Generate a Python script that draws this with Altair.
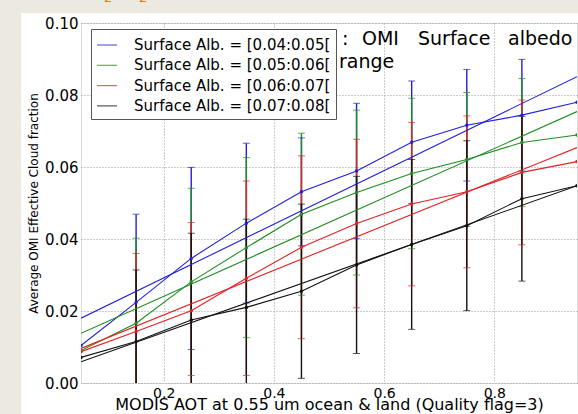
import altair as alt
import pandas as pd

# ---- data ----
aot = [0.05, 0.15, 0.25, 0.35, 0.45, 0.55, 0.65, 0.75, 0.85, 0.95]
labels = ["Surface Alb. = [0.04:0.05[", "Surface Alb. = [0.05:0.06[",
          "Surface Alb. = [0.06:0.07[", "Surface Alb. = [0.07:0.08["]
colors = ["#2020d8", "#1f8c1f", "#e02222", "#111111"]

mean_blue = [0.0104, 0.0224, 0.0346, 0.0444, 0.0531, 0.0589, 0.0669, 0.0716, 0.0744, 0.0780]
mean_green = [0.0090, 0.0166, 0.0281, 0.0376, 0.0469, 0.0529, 0.0582, 0.0621, 0.0668, 0.0689]
mean_red = [0.0087, 0.0143, 0.0201, 0.0291, 0.0377, 0.0443, 0.0497, 0.0531, 0.0585, 0.0615]
mean_black = [0.0071, 0.0115, 0.0175, 0.0210, 0.0255, 0.0328, 0.0385, 0.0437, 0.0512, 0.0548]

# standard deviations at AOT 0.15 ... 0.85
std_blue = [0.0245, 0.0253, 0.0222, 0.0150, 0.0188, 0.0170, 0.0155, 0.0155]
std_green = [0.0236, 0.0260, 0.0250, 0.0225, 0.0229, 0.0209, 0.0186, 0.0178]
std_red = [0.0217, 0.0245, 0.0270, 0.0254, 0.0234, 0.0227, 0.0211, 0.0201]
std_black = [0.0199, 0.0241, 0.0245, 0.0242, 0.0246, 0.0236, 0.0236, 0.0229]

# linear fits: value at AOT=0.05 and at AOT=0.95
fit_x = [0.05, 0.95]
fit_start = [0.0180, 0.0138, 0.0096, 0.0059]
fit_end = [0.0851, 0.0754, 0.0654, 0.0548]

x_ticks = [0.2, 0.4, 0.6, 0.8]
y_ticks = [0.0, 0.02, 0.04, 0.06, 0.08, 0.10]

means = [mean_blue, mean_green, mean_red, mean_black]
stds = [std_blue, std_green, std_red, std_black]

# ---- tables ----
line_rows, err_rows, cap_rows = [], [], []
for k, lab in enumerate(labels):
    for x, v in zip(aot, means[k]):
        line_rows.append({"aot": x, "val": v, "series": lab, "kind": "data", "ord": k})
    for x, v in zip(fit_x, [fit_start[k], fit_end[k]]):
        line_rows.append({"aot": x, "val": v, "series": lab, "kind": "fit", "ord": k})
    for x, v, s in zip(aot[1:-1], means[k][1:-1], stds[k]):
        err_rows.append({"aot": x, "lo": v - s, "hi": v + s, "series": lab, "ord": k})
        cap_rows.append({"aot": x, "val": v - s, "series": lab, "ord": k})
        cap_rows.append({"aot": x, "val": v + s, "series": lab, "ord": k})

lines_df = pd.DataFrame(line_rows)
pts_df = lines_df[lines_df["kind"] == "data"]
err_df = pd.DataFrame(err_rows)
cap_df = pd.DataFrame(cap_rows)

font = "DejaVu Sans"
beige = "#ECEAE0"
xscale = alt.Scale(domain=[0.05, 0.95], nice=False, zero=False)
yscale = alt.Scale(domain=[0.0, 0.10], nice=False, zero=False)
xaxis = alt.Axis(values=x_ticks, format=".1f", title="MODIS AOT at 0.55 um ocean & land (Quality flag=3)",
                 labelFontSize=14, titleFontSize=16, labelPadding=3, titlePadding=-4,
                 ticks=False, domain=False, grid=True, gridDash=[1, 2], gridColor="#9a9a9a",
                 labelColor="black", titleColor="black", titleFontWeight="normal", labelFlush=False)
yaxis = alt.Axis(values=y_ticks, format=".2f", title="Average OMI Effective Cloud fraction",
                 labelFontSize=15, titleFontSize=12, labelPadding=3, titlePadding=4,
                 ticks=False, domain=False, grid=True, gridDash=[1, 2], gridColor="#9a9a9a",
                 labelColor="black", titleColor="black", titleFontWeight="normal", labelFlush=False)
X = alt.X("aot:Q", scale=xscale, axis=xaxis)
Y = alt.Y("val:Q", scale=yscale, axis=yaxis)
color = alt.Color("series:N", scale=alt.Scale(domain=labels, range=colors),
                  legend=alt.Legend(title=None, orient="none", legendX=10, legendY=6,
                                    labelFontSize=15, labelFont=font, symbolType="stroke",
                                    symbolSize=400, symbolStrokeWidth=1.2, labelOffset=16,
                                    fillColor="white", strokeColor="#555555", padding=5,
                                    rowPadding=1.3, cornerRadius=0, labelColor="black",
                                    labelLimit=400))

one = pd.DataFrame({"a": [0]})
# beige slide margins (left and top strips)
strip_left = alt.Chart(one).mark_rect(color=beige).encode(
    x=alt.value(-90), x2=alt.value(-60), y=alt.value(-30), y2=alt.value(400))
strip_top = alt.Chart(one).mark_rect(color=beige).encode(
    x=alt.value(-90), x2=alt.value(510), y=alt.value(-30), y2=alt.value(-10))

errbars = alt.Chart(err_df).mark_rule(strokeWidth=1.4, clip=True).encode(
    x=X, y=alt.Y("lo:Q", scale=yscale, axis=yaxis), y2="hi:Q", color=color,
    order=alt.Order("ord:Q"))
caps = alt.Chart(cap_df).mark_tick(orient="horizontal", size=7, thickness=1, clip=True).encode(
    x=X, y=Y, color=color, order=alt.Order("ord:Q"))
lines = alt.Chart(lines_df).mark_line(strokeWidth=1.1, clip=True).encode(
    x=X, y=Y, color=color, detail=["series:N", "kind:N"], order=alt.Order("aot:Q"))
points = alt.Chart(pts_df).mark_circle(size=12, opacity=1, clip=True).encode(
    x=X, y=Y, color=color)

def word(txt, px, py, size=19, col="black"):
    return alt.Chart(one).mark_text(text=txt, font=font, fontSize=size, align="left",
                                    baseline="alphabetic", color=col).encode(
        x=alt.value(px), y=alt.value(py))

overlay = [word(":", 261, 22), word("OMI", 281, 22), word("Surface", 337, 22),
           word("albedo", 427, 22), word("range", 258, 45),
           # fragments of the slide heading above (cut off at the top edge)
           word("2", 23, -21, size=13, col="#E8761E"), word("2", 58, -21, size=13, col="#E8761E")]

chart = alt.layer(strip_left, strip_top, errbars, caps, lines, points, *overlay).properties(
    width=496, height=360,
    autosize=alt.AutoSizeParams(type="none"),
    padding={"left": 81, "top": 23, "right": 1, "bottom": 31},
    background="white",
).configure_view(stroke="#555555", strokeWidth=1).configure(font=font)

chart.save("out.html", embed_options={"renderer": "svg", "actions": False})
